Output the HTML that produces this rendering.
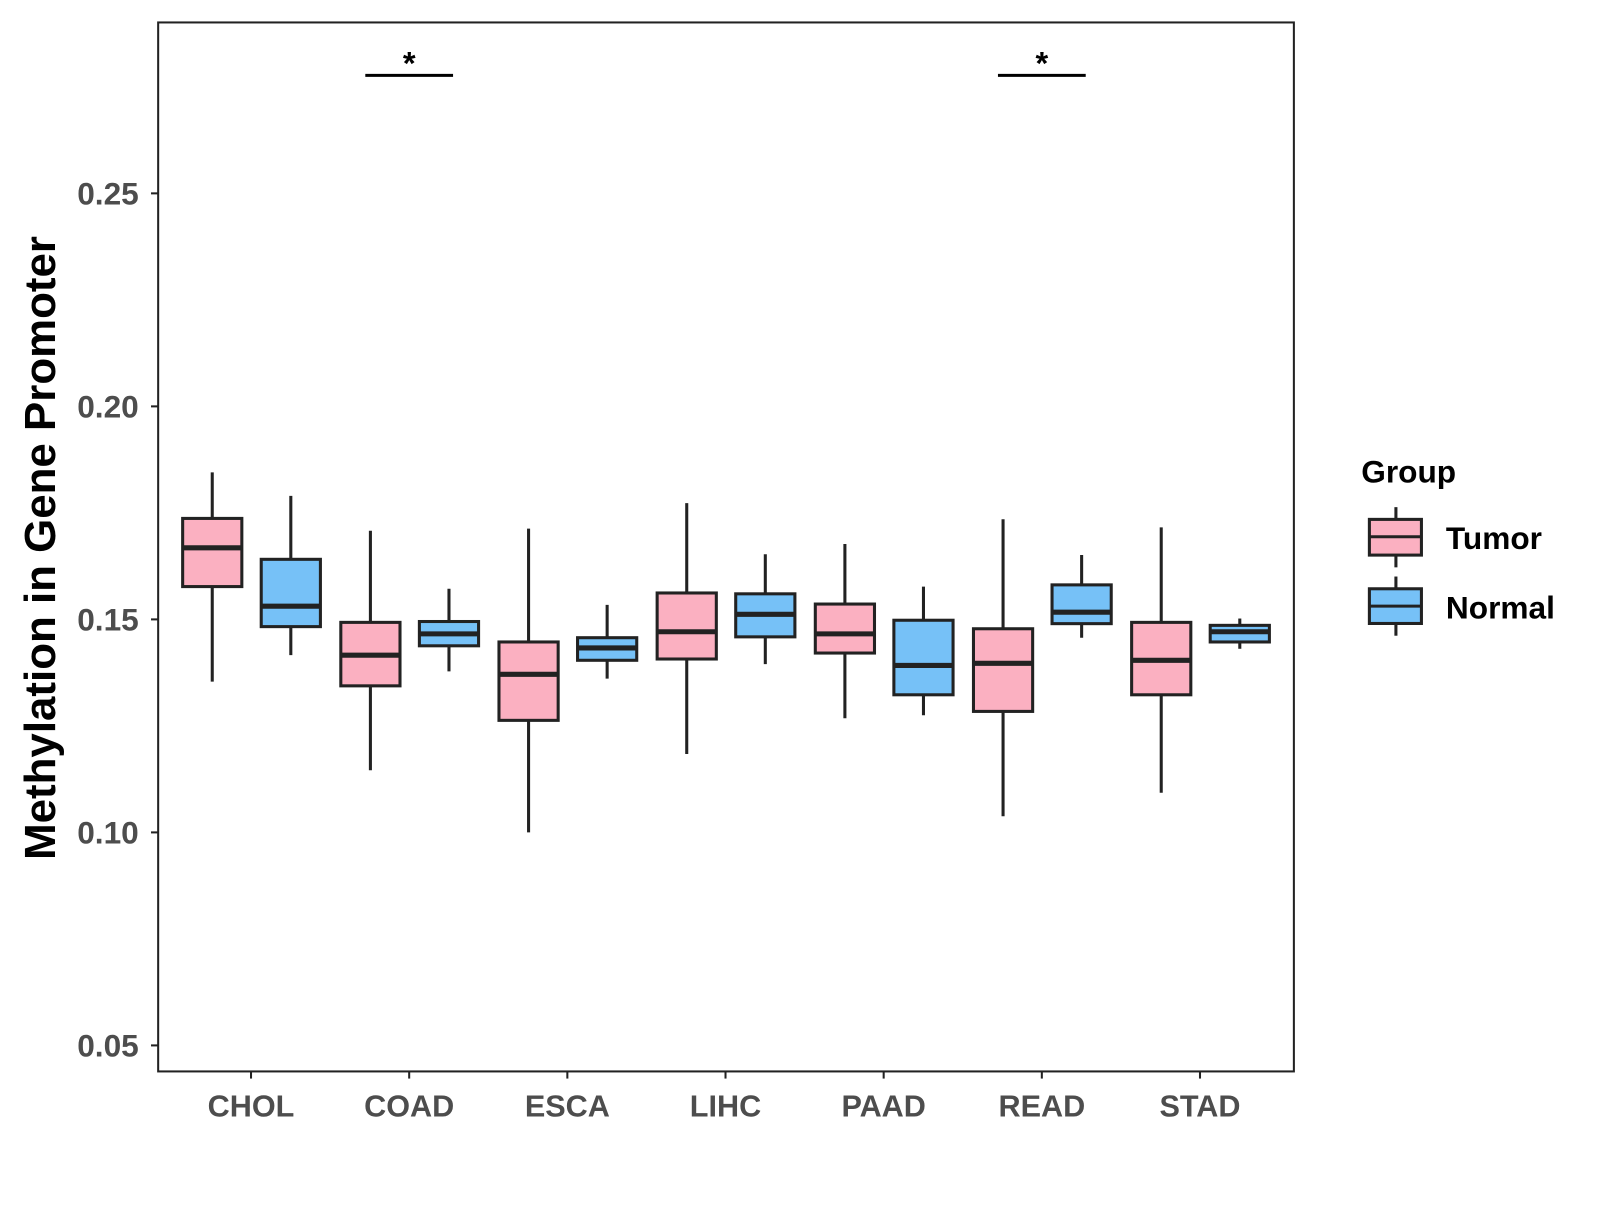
<!DOCTYPE html>
<html><head><meta charset="utf-8"><style>
body{margin:0;background:#fff}
svg text{font-family:"Liberation Sans",Arial,sans-serif;font-weight:bold}
</style></head><body>
<svg id="chart" width="1600" height="1200" viewBox="0 0 1568 1176" xmlns="http://www.w3.org/2000/svg">
<rect x="0" y="0" width="1568" height="1176" fill="#fff"/>
<g id="plot"></g>
<rect x="155" y="22" width="1113" height="1028" fill="none" stroke="#222" stroke-width="2"/>
<text transform="translate(54,537) rotate(-90)" text-anchor="middle" font-size="43" fill="#000">Methylation in Gene Promoter</text>
<g>
<text x="1334" y="473" font-size="31" fill="#000">Group</text>
<g>
<line x1="1368" y1="497" x2="1368" y2="556" stroke="#222" stroke-width="3"/>
<rect x="1342" y="509" width="51" height="35" fill="#fbb0c1" stroke="#222" stroke-width="3"/>
<line x1="1342" y1="526" x2="1393" y2="526" stroke="#222" stroke-width="3"/>
<text x="1417" y="538" font-size="31" fill="#000">Tumor</text></g>
<g>
<line x1="1368" y1="565" x2="1368" y2="623" stroke="#222" stroke-width="3"/>
<rect x="1342" y="577" width="51" height="34" fill="#76c1f7" stroke="#222" stroke-width="3"/>
<line x1="1342" y1="594" x2="1393" y2="594" stroke="#222" stroke-width="3"/>
<text x="1417" y="606" font-size="31" fill="#000">Normal</text></g>
</g>
</svg>
<script>
const categories=["CHOL","COAD","ESCA","LIHC","PAAD","READ","STAD"];
// [whiskerLow, Q1, median, Q3, whiskerHigh]
const tumorStats=[[0.1354,0.1577,0.1668,0.1737,0.1845],[0.1146,0.1344,0.1416,0.1493,0.1708],[0.100,0.1263,0.1371,0.1447,0.1713],[0.1184,0.1407,0.1471,0.1562,0.1773],[0.1268,0.1421,0.1466,0.1536,0.1677],[0.1038,0.1284,0.1397,0.1478,0.1735],[0.1093,0.1323,0.1404,0.1493,0.1716]];
const normalStats=[[0.1416,0.1483,0.1531,0.1641,0.179],[0.1378,0.1438,0.1466,0.1495,0.1572],[0.1361,0.1404,0.1433,0.1457,0.1534],[0.1395,0.1459,0.1512,0.156,0.1653],[0.1275,0.1323,0.1392,0.1498,0.1577],[0.1457,0.149,0.1517,0.1581,0.1651],[0.1431,0.1447,0.1471,0.1486,0.1502]];
const yTicks=[0.05,0.10,0.15,0.20,0.25];
const yTickLabels=["0.05","0.10","0.15","0.20","0.25"];
const significant=["COAD","READ"];
const sigValue=0.2777;

const NS="http://www.w3.org/2000/svg";
const g=document.getElementById('plot');
function y(v){return 607+(0.15-v)*(208.75/0.05);}
function x(i){return 246+i*155;}
function el(t,a,p){const e=document.createElementNS(NS,t);for(const k in a)e.setAttribute(k,a[k]);(p||g).appendChild(e);return e;}

yTicks.forEach((v,i)=>{
  const t=el('line',{x1:148,x2:155,y1:y(v),y2:y(v),stroke:'#222','stroke-width':2});
  
  
  const l=el('text',{x:136,y:y(v)+11,'text-anchor':'end','font-size':31,fill:'#4d4d4d'});
  l.textContent=yTickLabels[i];
  
  
});
categories.forEach((c,i)=>{
  const t=el('line',{x1:x(i),x2:x(i),y1:1050,y2:1057,stroke:'#222','stroke-width':2});
  
  
  const l=el('text',{x:x(i),y:1094,'text-anchor':'middle','font-size':30,fill:'#4d4d4d'});
  l.textContent=c;
  
  
});
function box(s,cx,fill,name){
  const grp=el('g',{});
  
  
  const w=58;
  el('line',{x1:cx,x2:cx,y1:y(s[4]),y2:y(s[0]),stroke:'#222','stroke-width':3},grp);
  el('rect',{x:cx-w/2,y:y(s[3]),width:w,height:y(s[1])-y(s[3]),fill:fill,stroke:'#222','stroke-width':3},grp);
  el('line',{x1:cx-w/2,x2:cx+w/2,y1:y(s[2]),y2:y(s[2]),stroke:'#222','stroke-width':5},grp);
}
categories.forEach((c,i)=>{
  box(tumorStats[i],x(i)-38,'#fbb0c1','box-tumor-'+c.toLowerCase());
  box(normalStats[i],x(i)+39,'#76c1f7','box-normal-'+c.toLowerCase());
});
significant.forEach(c=>{
  const i=categories.indexOf(c);
  const b=el('line',{x1:x(i)-43,x2:x(i)+43,y1:y(sigValue),y2:y(sigValue),stroke:'#000','stroke-width':3});
  
  
  const s=el('text',{x:x(i),y:y(sigValue)-1,'text-anchor':'middle','font-size':32,fill:'#000'});
  s.textContent='*';
  
  
});
</script>
</body></html>
